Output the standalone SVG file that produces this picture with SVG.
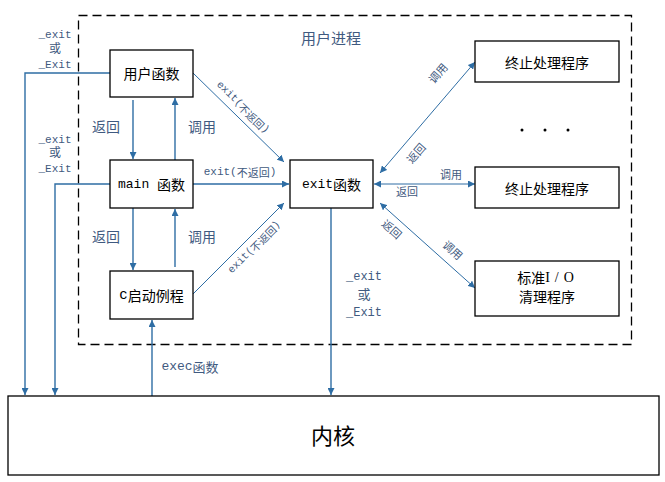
<svg xmlns="http://www.w3.org/2000/svg" width="665" height="482" viewBox="0 0 665 482">
<style>
.box{fill:#fff;stroke:#000;stroke-width:1.3}
.t{font-family:"Liberation Mono","Noto Sans CJK SC",monospace;fill:#000;text-anchor:middle;dominant-baseline:central}
.cj{font-family:"Noto Sans CJK SC","Liberation Sans",sans-serif}
.lb{font-family:"Liberation Mono","Noto Sans CJK SC",monospace;fill:#3f5a80;text-anchor:middle;dominant-baseline:central}
.c{fill:none;stroke:#2e6da4;stroke-width:1.4}
.d{fill:none;stroke:#2e6da4;stroke-width:1}
</style>
<defs>
<marker id="ah" viewBox="0 0 10 10" refX="10" refY="5" markerWidth="7" markerHeight="7" markerUnits="userSpaceOnUse" orient="auto-start-reverse">
<path d="M0,0 L10,5 L0,10 z" fill="#2e6da4"/>
</marker>
</defs>
<rect x="78.5" y="15.5" width="553" height="329" fill="none" stroke="#000" stroke-width="1.3" stroke-dasharray="9,5"/>
<text class="lb cj" x="331" y="40" font-size="15">用户进程</text>

<g id="connectors">
<path class="c" d="M110,73 H25 V395" marker-end="url(#ah)"/>
<path class="c" d="M110,184 H55 V395" marker-end="url(#ah)"/>
<path class="c" d="M152,396 V320" marker-end="url(#ah)"/>
<path class="c" d="M331,208 V395" marker-end="url(#ah)"/>
<path class="c" d="M133,100 V159" marker-end="url(#ah)"/>
<path class="c" d="M175,160 V98" marker-end="url(#ah)"/>
<path class="c" d="M133,208 V270" marker-end="url(#ah)"/>
<path class="c" d="M175,267 V209" marker-end="url(#ah)"/>
<path class="c" d="M193,184 H289" marker-end="url(#ah)"/>
<path class="d" d="M193,73 L284,162" marker-end="url(#ah)"/>
<path class="d" d="M193,294 L284,203" marker-end="url(#ah)"/>
<path class="d" d="M380,173 L475,62" marker-start="url(#ah)" marker-end="url(#ah)"/>
<path class="d" d="M374,184 H475" marker-start="url(#ah)" marker-end="url(#ah)"/>
<path class="d" d="M380,203 L475,288" marker-start="url(#ah)" marker-end="url(#ah)"/>
</g>

<g id="labels">
<text class="lb" x="55" y="35" font-size="11">_exit</text>
<text class="lb cj" x="55" y="50" font-size="12">或</text>
<text class="lb" x="55" y="65" font-size="11">_Exit</text>
<text class="lb" x="55" y="140" font-size="11">_exit</text>
<text class="lb cj" x="55" y="154" font-size="12">或</text>
<text class="lb" x="55" y="169" font-size="11">_Exit</text>
<text class="lb" x="364" y="277" font-size="12">_exit</text>
<text class="lb cj" x="364" y="295" font-size="13">或</text>
<text class="lb" x="364" y="313" font-size="12">_Exit</text>
<text class="lb cj" x="106" y="128" font-size="14">返回</text>
<text class="lb cj" x="202" y="128" font-size="14">调用</text>
<text class="lb cj" x="106" y="238" font-size="14">返回</text>
<text class="lb cj" x="202" y="238" font-size="14">调用</text>
<text class="lb" x="190" y="366" font-size="13" text-anchor="middle">exec<tspan class="cj">函数</tspan></text>
<text class="lb" x="240" y="172" font-size="11">exit(<tspan class="cj">不返回</tspan>)</text>
<text class="lb" font-size="10.5" transform="translate(243,107) rotate(44.4)">exit(<tspan class="cj">不返回</tspan>)</text>
<text class="lb" font-size="10.5" transform="translate(254,247) rotate(-45.5)">exit(<tspan class="cj">不返回</tspan>)</text>
<text class="lb cj" font-size="11" transform="translate(439,74) rotate(-49.4)">调用</text>
<text class="lb cj" font-size="11" transform="translate(417,154) rotate(-49.4)">返回</text>
<text class="lb cj" x="451" y="176" font-size="11">调用</text>
<text class="lb cj" x="407" y="193" font-size="11">返回</text>
<text class="lb cj" font-size="11" transform="translate(391,230) rotate(41.7)">返回</text>
<text class="lb cj" font-size="11" transform="translate(452,251) rotate(41.7)">调用</text>
<circle cx="522" cy="130" r="1.5" fill="#000"/>
<circle cx="545" cy="130" r="1.5" fill="#000"/>
<circle cx="568" cy="130" r="1.5" fill="#000"/>
</g>

<g id="user-func"><rect class="box" x="110" y="50" width="83" height="47"/><text class="t cj" x="151.5" y="73" font-size="14">用户函数</text></g>
<g id="main-func"><rect class="box" x="110" y="160" width="83" height="48"/><text class="t" x="151.5" y="184" font-size="13">main <tspan class="cj" font-size="14">函数</tspan></text></g>
<g id="c-start"><rect class="box" x="110" y="271" width="83" height="48"/><text class="t" x="151.5" y="295" font-size="14">c<tspan class="cj">启动例程</tspan></text></g>
<g id="exit-func"><rect class="box" x="290" y="160" width="83" height="48"/><text class="t" x="331.5" y="184" font-size="13">exit<tspan class="cj" font-size="14">函数</tspan></text></g>
<g id="handler1"><rect class="box" x="475" y="41" width="144" height="41"/><text class="t cj" x="547" y="62" font-size="14">终止处理程序</text></g>
<g id="handler2"><rect class="box" x="475" y="167" width="144" height="41"/><text class="t cj" x="547" y="187.5" font-size="14">终止处理程序</text></g>
<g id="stdio"><rect class="box" x="475" y="261" width="144" height="55"/><text class="t" x="548" y="277" font-size="14"><tspan class="cj">标准</tspan><tspan font-family="Liberation Serif" letter-spacing="5">I/O</tspan></text><text class="t cj" x="547" y="296" font-size="14">清理程序</text></g>
<g id="kernel"><rect class="box" x="8" y="396" width="651" height="79"/><text class="t cj" x="333" y="434" font-size="22">内核</text></g>
</svg>
